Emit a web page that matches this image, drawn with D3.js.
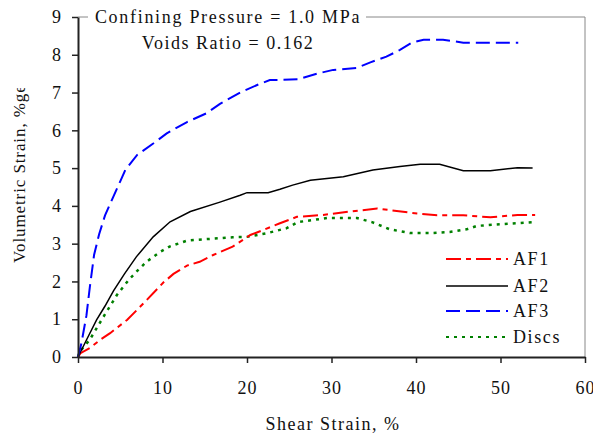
<!DOCTYPE html>
<html>
<head>
<meta charset="utf-8">
<script src="https://cdn.jsdelivr.net/npm/d3@7.9.0/dist/d3.min.js"></script>
<style>
  body { margin: 0; background: #fff; }
</style>
</head>
<body>
<svg id="chart" width="593" height="435"></svg>
<script>
// series values (shear strain %, volumetric strain %)
const af1X = [0, 0.3, 1.4, 2.6, 3.8, 5.8, 8.1, 10.1, 11.3, 12.9, 14.4, 16, 18.3, 20.4, 21.9, 23.9, 25.9, 29, 32.2, 35.4, 39.3, 42.5, 45.6, 48.8, 52, 54.1];
const af1Y = [0, 0.1, 0.24, 0.45, 0.63, 0.98, 1.5, 1.97, 2.2, 2.42, 2.52, 2.7, 2.92, 3.23, 3.36, 3.54, 3.71, 3.76, 3.85, 3.93, 3.82, 3.75, 3.75, 3.7, 3.76, 3.76];

const af2X = [0, 1, 2.2, 3.2, 4.2, 5.5, 6.9, 8.9, 10.9, 13.3, 16.8, 19.2, 20, 22.5, 23.9, 25.4, 27.5, 31.4, 34.9, 38.1, 40.5, 42.8, 45.6, 48.8, 52, 53.8];
const af2Y = [0, 0.45, 0.98, 1.35, 1.75, 2.2, 2.65, 3.18, 3.58, 3.85, 4.1, 4.28, 4.35, 4.35, 4.44, 4.55, 4.68, 4.77, 4.95, 5.04, 5.1, 5.1, 4.93, 4.93, 5.01, 5.0];

const af3X = [0, 0.4, 1.0, 1.4, 1.9, 2.5, 3.2, 4.2, 5.0, 5.6, 7.0, 8.9, 10.5, 12.9, 15.2, 16.8, 19.2, 21.2, 22.7, 26.0, 28.3, 30.2, 33.0, 34.6, 36.5, 38.1, 39.5, 40.9, 43.2, 45.6, 52.1];
const af3Y = [0, 0.36, 1.1, 1.85, 2.7, 3.25, 3.75, 4.25, 4.65, 4.95, 5.35, 5.65, 5.92, 6.22, 6.45, 6.7, 7.0, 7.2, 7.33, 7.35, 7.5, 7.6, 7.65, 7.8, 7.95, 8.13, 8.32, 8.4, 8.4, 8.32, 8.32];

const discsX = [0, 0.2, 1.4, 3, 4.6, 6.0, 7.1, 8.1, 9.7, 10.9, 12.9, 15.2, 18.3, 20, 22.4, 24.7, 26, 29.5, 33, 34.8, 36.9, 39.3, 41.7, 44, 46, 47.2, 50.3, 53.8];
const discsY = [0, 0.14, 0.46, 1.06, 1.64, 2.04, 2.3, 2.52, 2.78, 2.93, 3.08, 3.12, 3.17, 3.18, 3.28, 3.41, 3.57, 3.68, 3.68, 3.57, 3.38, 3.28, 3.28, 3.31, 3.38, 3.47, 3.52, 3.57];

const seriesNames = ["AF1", "AF2", "AF3", "Discs"];
const xTicks = [0, 10, 20, 30, 40, 50, 60];
const yTicks = [0, 1, 2, 3, 4, 5, 6, 7, 8, 9];

const styles = {
  AF1: { color: "#ff0000", dash: "15,5,5,5", width: 2 },
  AF2: { color: "#000000", dash: null, width: 1.5 },
  AF3: { color: "#0000ff", dash: "14,6", width: 2 },
  Discs: { color: "#008000", dash: "3,5", width: 2.5 }
};

const series = [
  { name: "AF1", x: af1X, y: af1Y },
  { name: "AF2", x: af2X, y: af2Y },
  { name: "AF3", x: af3X, y: af3Y },
  { name: "Discs", x: discsX, y: discsY }
];

const serif = "'Liberation Serif', 'Times New Roman', serif";
const margin = { top: 17, right: 8, bottom: 78, left: 78 };
const W = 593, H = 435;
const svg = d3.select("#chart");

const x = d3.scaleLinear().domain([0, 60]).range([margin.left, W - margin.right]);
const y = d3.scaleLinear().domain([0, 9]).range([H - margin.bottom, margin.top]);

// gray frame on top and right
svg.append("path")
  .attr("d", `M${x(0)},${y(9)}H${x(60)}V${y(0)}`)
  .attr("fill", "none")
  .attr("stroke", "#888")
  .attr("stroke-width", 1);

// data lines
const line = d3.line().x(d => x(d[0])).y(d => y(d[1]));
const order = ["Discs", "AF1", "AF2", "AF3"];
order.forEach(n => {
  const s = series.find(d => d.name === n);
  const st = styles[n];
  svg.append("path")
    .datum(d3.zip(s.x, s.y))
    .attr("d", line)
    .attr("fill", "none")
    .attr("stroke", st.color)
    .attr("stroke-width", st.width)
    .attr("stroke-dasharray", st.dash);
});

// axes
const xAxis = svg.append("g")
  .attr("transform", `translate(0,${y(0)})`)
  .call(d3.axisBottom(x).tickValues(xTicks).tickSize(6).tickSizeOuter(0).tickPadding(18));
const yAxis = svg.append("g")
  .attr("transform", `translate(${x(0)},0)`)
  .call(d3.axisLeft(y).tickValues(yTicks).tickSize(6).tickSizeOuter(0).tickPadding(10));

[xAxis, yAxis].forEach(a => {
  a.attr("font-family", serif).attr("font-size", 18);
  a.select(".domain").attr("stroke", "#222").attr("stroke-width", 2);
  a.selectAll(".tick line").attr("stroke", "#222").attr("stroke-width", 1.5);
  a.selectAll(".tick text").attr("fill", "#111").attr("letter-spacing", "1px");
});

// annotation box covering the top frame
const note = svg.append("g").attr("font-family", serif).attr("font-size", 18).attr("fill", "#111");
note.append("rect")
  .attr("x", 88).attr("y", 5).attr("width", 278).attr("height", 50)
  .attr("fill", "#fff");
note.append("text")
  .attr("x", 228).attr("y", 23)
  .attr("text-anchor", "middle")
  .attr("letter-spacing", "1.7px")
  .text("Confining Pressure = 1.0 MPa");
note.append("text")
  .attr("x", 228).attr("y", 49)
  .attr("text-anchor", "middle")
  .attr("letter-spacing", "1.5px")
  .text("Voids Ratio = 0.162");

// legend
const legendY = [259, 286, 311, 337];
const legend = svg.append("g").attr("font-family", serif).attr("font-size", 18).attr("fill", "#111");
seriesNames.forEach((n, i) => {
  const st = styles[n];
  legend.append("line")
    .attr("x1", 446).attr("x2", 508)
    .attr("y1", legendY[i]).attr("y2", legendY[i])
    .attr("stroke", st.color)
    .attr("stroke-width", n === "AF2" ? 1.5 : 2)
    .attr("stroke-dasharray", st.dash);
  legend.append("text")
    .attr("x", 513).attr("y", legendY[i])
    .attr("dy", "0.35em")
    .attr("letter-spacing", "1.6px")
    .text(n);
});

// axis titles
svg.append("text")
  .attr("x", 333).attr("y", 430)
  .attr("text-anchor", "middle")
  .attr("font-family", serif)
  .attr("font-size", 18)
  .attr("letter-spacing", "1.5px")
  .attr("fill", "#111")
  .text("Shear Strain, %");

svg.append("clipPath").attr("id", "ylab-clip")
  .append("rect").attr("x", 0).attr("y", 88).attr("width", 40).attr("height", 300);
svg.append("g")
  .attr("clip-path", "url(#ylab-clip)")
  .append("text")
  .attr("transform", "translate(25,263) rotate(-90)")
  .attr("text-anchor", "start")
  .attr("font-family", serif)
  .attr("font-size", 17)
  .attr("letter-spacing", "0.9px")
  .attr("fill", "#111")
  .text("Volumetric Strain, %ge");
</script>
</body>
</html>
